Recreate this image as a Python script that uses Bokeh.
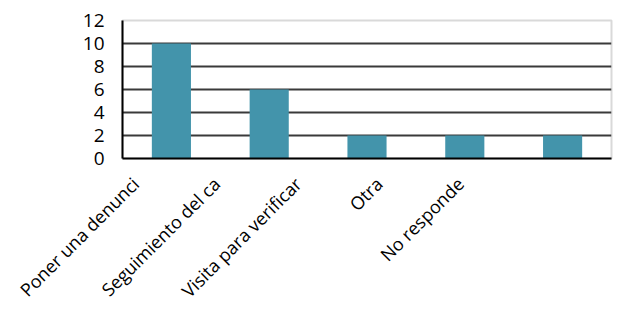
import math
from bokeh.plotting import figure
from bokeh.models import ColumnDataSource, LinearAxis, Range1d, FixedTicker
from bokeh.embed import file_html
from bokeh.resources import INLINE

categories = ["Poner una denunci", "Seguimiento del ca", "Visita para verificar", "Otra", "No responde"]
values = [10, 6, 2, 2, 2]
y_ticks = [0, 2, 4, 6, 8, 10, 12]

FONT = "Open Sans"
BAR = "#4394ab"

idx = list(range(len(categories)))

p = figure(x_range=Range1d(-0.5, len(categories) - 0.5), y_range=(0, 12),
           width=632, height=313, output_backend="svg", toolbar_location=None,
           min_border_left=122, min_border_right=21, min_border_top=20, min_border_bottom=152)

src = ColumnDataSource(dict(pos=idx, cat=categories, val=values))
p.vbar(x="pos", top="val", width=0.4, source=src, color=BAR, line_color=None)

p.yaxis.ticker = FixedTicker(ticks=y_ticks)
p.yaxis.major_label_text_font = FONT
p.yaxis.major_label_text_font_size = "19px"
p.yaxis.major_label_text_color = "black"
p.yaxis.major_tick_line_color = None
p.yaxis.minor_tick_line_color = None
p.yaxis.major_label_standoff = 12
p.yaxis.axis_line_color = "black"
p.yaxis.axis_line_width = 2

# category label axis; its labels sit slightly compressed to the left,
# as in the reference rendering
p.xaxis.visible = False
p.extra_x_ranges = {"lab": Range1d(start=-0.16, end=5.86)}
lab_axis = LinearAxis(x_range_name="lab", ticker=FixedTicker(ticks=idx),
                      major_label_overrides={i: c for i, c in zip(idx, categories)},
                      major_label_orientation=math.pi / 4,
                      major_label_text_font=FONT, major_label_text_font_size="18px",
                      major_label_text_color="black", major_label_standoff=16,
                      major_tick_line_color=None, minor_tick_line_color=None,
                      axis_line_color="black", axis_line_width=2)
p.add_layout(lab_axis, "below")

p.xgrid.grid_line_color = None
p.ygrid.ticker = FixedTicker(ticks=y_ticks)
p.ygrid.grid_line_color = "#3a3a3a"
p.ygrid.grid_line_width = 2
p.outline_line_color = "#d9d9d9"
p.outline_line_width = 2

open("out.html", "w").write(file_html(p, INLINE))
